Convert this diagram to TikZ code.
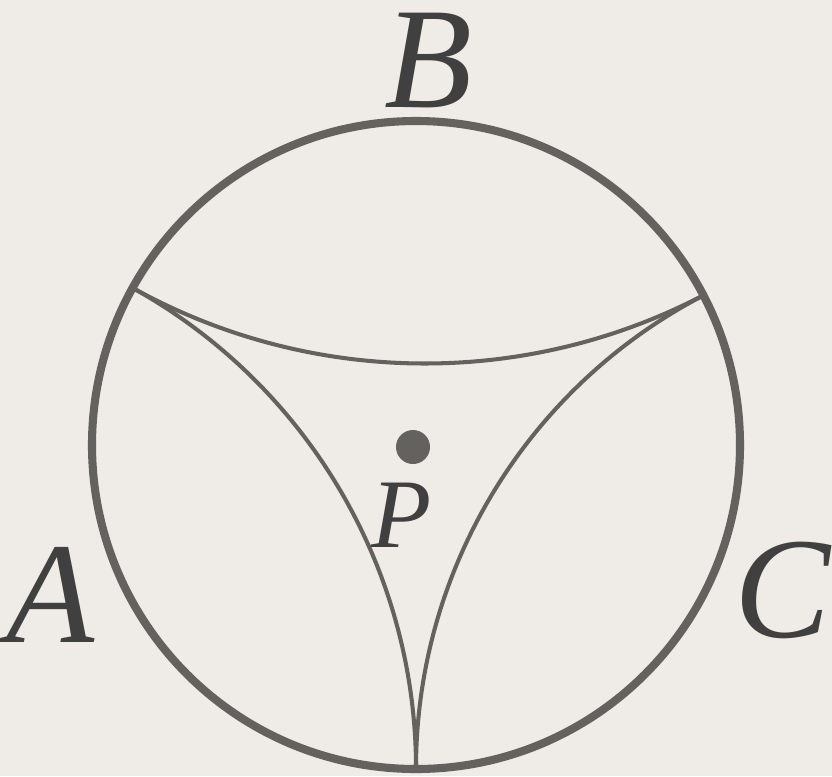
\documentclass[tikz,border=0pt]{standalone}
\usepackage{fontspec}
\setmainfont{Liberation Serif}
\usepackage{tikz}

\definecolor{paper}{RGB}{239,236,231}
\definecolor{ink}{RGB}{100,98,94}
\definecolor{letter}{RGB}{64,64,64}

\begin{document}
\begin{tikzpicture}[
    bigletter/.style={text=letter, inner sep=0pt, font=\fontsize{41}{41}\selectfont\itshape},
    geodesic/.style={ink, line width=1.15pt}
  ]
    \fill[paper] (-4.16,-3.31) rectangle (4.16,4.45);
    \useasboundingbox (-4.16,-3.31) rectangle (4.16,4.45);

    % boundary circle
    \node[circle, draw=ink, line width=2.3pt, minimum size=6.48cm, inner sep=0pt] (disk) at (0,0) {};

    % ideal vertices
    \coordinate (u) at (151:3.24);
    \coordinate (v) at (27.5:3.24);
    \coordinate (w) at (270:3.24);

    % geodesics
    \draw[geodesic] (u) arc[start angle=241, end angle=297.5, radius=6.029];
    \draw[geodesic] (u) arc[start angle=61, end angle=0, radius=5.501];
    \draw[geodesic] (v) arc[start angle=117.5, end angle=180, radius=5.339];

    % point P
    \node[circle, fill=ink, minimum size=0.34cm, inner sep=0pt] (p) at (-0.03,-0.02) {};
    \node[text=letter, inner sep=0pt, font=\fontsize{28}{28}\selectfont\itshape] (plabel) at (-0.14,-0.70) {P};

    % arc labels
    \node[bigletter] (lb) at (0.13,3.84) {B};
    \node[bigletter] (la) at (-3.65,-1.50) {A};
    \node[bigletter] (lc) at (3.67,-1.45) {C};
\end{tikzpicture}
\end{document}
